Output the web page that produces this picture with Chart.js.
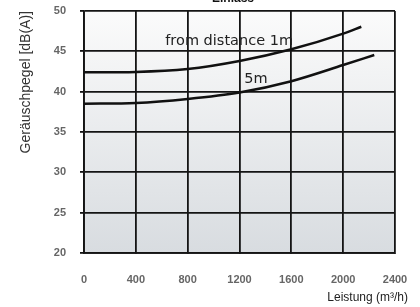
<!DOCTYPE html>
<html lang="de">
<head>
  <meta charset="UTF-8" />
  <title>Einlass</title>
  <script src="https://cdn.jsdelivr.net/npm/chart.js"></script>
  <style>
    body { margin: 0; background: #fff; }
    .wrap { width: 420px; height: 307px; position: relative; }
  </style>
</head>
<body>
  <div class="wrap"><canvas id="chart"></canvas></div>

  <script>
    // Leistung (m³/h)
    const flow1m = [0, 400, 800, 1200, 1600, 2000, 2140];
    const noise1m = [42.4, 42.45, 42.8, 43.8, 45.25, 47.2, 48.05];
    const flow5m = [0, 400, 800, 1200, 1600, 2000, 2240];
    const noise5m = [38.5, 38.6, 39.1, 39.9, 41.3, 43.3, 44.55];

    const xTicks = [0, 400, 800, 1200, 1600, 2000, 2400];
    const yTicks = [20, 25, 30, 35, 40, 45, 50];

    // text placed in data coordinates
    const curveLabels = [
      { text: "from distance 1m", x: 1120, y: 46.2 },
      { text: "5m", x: 1327, y: 41.6 }
    ];

    const toPoints = (xs, ys) => xs.map((x, i) => ({ x: x, y: ys[i] }));

    const gridColor = "#141414";
    const tickFont = { family: "'Liberation Sans'", size: 11, weight: "bold" };

    const plotBackground = {
      id: "plotBackground",
      beforeDraw(chart) {
        const { ctx, chartArea: a } = chart;
        const g = ctx.createLinearGradient(0, a.top, 0, a.bottom);
        g.addColorStop(0, "#fbfbfb");
        g.addColorStop(1, "#d8dce0");
        ctx.save();
        ctx.fillStyle = g;
        ctx.fillRect(a.left, a.top, a.right - a.left, a.bottom - a.top);
        ctx.restore();
      }
    };

    const extraText = {
      id: "extraText",
      afterDatasetsDraw(chart) {
        const { ctx, scales } = chart;
        ctx.save();
        ctx.fillStyle = "#222";
        ctx.font = "14.5px 'DejaVu Sans'";
        ctx.textAlign = "center";
        ctx.textBaseline = "middle";
        curveLabels.forEach(l => {
          ctx.fillText(l.text, scales.x.getPixelForValue(l.x), scales.y.getPixelForValue(l.y));
        });
        // cut-off title at the very top
        ctx.font = "bold 12px 'Liberation Sans'";
        ctx.fillStyle = "#111";
        ctx.textBaseline = "alphabetic";
        ctx.fillText("Einlass", 233, 2);
        // x axis title, right side
        ctx.font = "12px 'Liberation Sans'";
        ctx.fillStyle = "#222";
        ctx.textAlign = "right";
        ctx.textBaseline = "middle";
        ctx.fillText("Leistung (m³/h)", 408, 298);
        ctx.restore();
      }
    };

    new Chart(document.getElementById("chart"), {
      type: "line",
      data: {
        datasets: [
          {
            label: "1m",
            data: toPoints(flow1m, noise1m),
            borderColor: "#111",
            borderWidth: 2.5,
            pointRadius: 0,
            cubicInterpolationMode: "monotone",
            fill: false
          },
          {
            label: "5m",
            data: toPoints(flow5m, noise5m),
            borderColor: "#111",
            borderWidth: 2.5,
            pointRadius: 0,
            cubicInterpolationMode: "monotone",
            fill: false
          }
        ]
      },
      options: {
        responsive: true,
        maintainAspectRatio: false,
        animation: false,
        layout: { padding: { top: 11, right: 25, left: 0, bottom: 0 } },
        plugins: {
          legend: { display: false },
          tooltip: { enabled: false }
        },
        scales: {
          x: {
            type: "linear",
            min: 0,
            max: 2400,
            afterFit: s => { s.height = 54; s.paddingLeft = 0; s.paddingRight = 0; },
            afterBuildTicks: s => { s.ticks = xTicks.map(v => ({ value: v })); },
            grid: { color: gridColor, lineWidth: 1.8, tickLength: 0 },
            border: { color: gridColor, width: 1.8 },
            ticks: {
              padding: 20,
              color: "#666",
              font: tickFont,
              maxRotation: 0,
              callback: v => String(v)
            }
          },
          y: {
            min: 20,
            max: 50,
            afterFit: s => { s.width = 84; s.paddingTop = 0; s.paddingBottom = 0; },
            afterBuildTicks: s => { s.ticks = yTicks.map(v => ({ value: v })); },
            grid: { color: gridColor, lineWidth: 1.8, tickLength: 4 },
            border: { color: gridColor, width: 1.8 },
            ticks: {
              padding: 14,
              color: "#666",
              font: tickFont,
              callback: v => String(v)
            },
            title: {
              display: true,
              text: "Geräuschpegel [dB(A)]",
              align: "end",
              color: "#333",
              font: { family: "'Liberation Sans'", size: 14 },
              padding: { top: 18, bottom: 0 }
            }
          }
        }
      },
      plugins: [plotBackground, extraText]
    });
  </script>
</body>
</html>
